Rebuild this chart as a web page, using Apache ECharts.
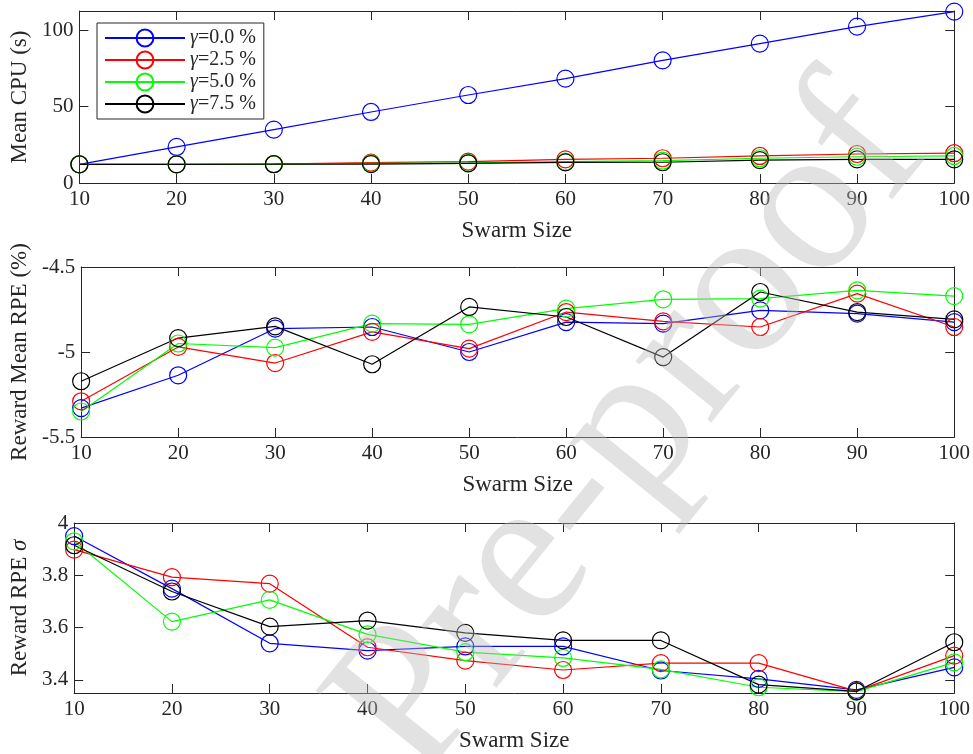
<!DOCTYPE html>
<html>
<head>
<meta charset="utf-8">
<title>Swarm size study</title>
<script src="https://cdn.jsdelivr.net/npm/echarts@6/dist/echarts.min.js"></script>
<style>
  html, body { margin: 0; padding: 0; background: #fff; }
  #chart { width: 973px; height: 754px; }
</style>
</head>
<body>
<div id="chart"></div>
<script>
// Swarm sizes on the shared x axis
const swarmSizes = [10, 20, 30, 40, 50, 60, 70, 80, 90, 100];

// Series labels (pruning ratio gamma)
const seriesNames = ['γ=0.0 %', 'γ=2.5 %', 'γ=5.0 %', 'γ=7.5 %'];
const seriesColors = ['#0000ff', '#ff0000', '#00ff00', '#000000'];

// Panel 1: mean CPU time (s)
const cpuG00 = [12.2, 23.6, 34.9, 46.5, 57.6, 68.3, 80.3, 91.2, 102.4, 112.2];
const cpuG25 = [12.2, 12.2, 12.4, 13.3, 14.0, 15.5, 16.2, 17.7, 19.0, 19.5];
const cpuG50 = [12.2, 12.2, 12.3, 12.8, 13.2, 14.0, 14.6, 16.2, 17.2, 17.7];
const cpuG75 = [12.2, 12.2, 12.3, 12.4, 12.9, 13.5, 13.6, 15.0, 15.5, 15.5];

// Panel 2: reward mean RPE (%)
const rpeG00 = [-5.33, -5.137, -4.862, -4.853, -5.0, -4.824, -4.833, -4.755, -4.774, -4.824];
const rpeG25 = [-5.29, -4.97, -5.065, -4.882, -4.98, -4.765, -4.82, -4.853, -4.657, -4.853];
const rpeG50 = [-5.35, -4.95, -4.974, -4.833, -4.837, -4.745, -4.69, -4.686, -4.637, -4.671];
const rpeG75 = [-5.172, -4.918, -4.849, -5.072, -4.735, -4.794, -5.03, -4.647, -4.765, -4.808];

// Panel 3: reward RPE standard deviation
const sdG00 = [3.950, 3.749, 3.540, 3.512, 3.528, 3.528, 3.436, 3.404, 3.362, 3.448];
const sdG25 = [3.898, 3.793, 3.768, 3.525, 3.474, 3.438, 3.464, 3.464, 3.357, 3.493];
const sdG50 = [3.930, 3.623, 3.706, 3.574, 3.506, 3.484, 3.440, 3.372, 3.355, 3.467];
const sdG75 = [3.915, 3.738, 3.604, 3.627, 3.580, 3.551, 3.551, 3.382, 3.356, 3.544];

// Tick positions per panel
const xTicks = [10, 20, 30, 40, 50, 60, 70, 80, 90, 100];
const cpuTicks = [0, 50, 100];
const rpeTicks = [-5.5, -5, -4.5];
const sdTicks = [3.4, 3.6, 3.8, 4];

const FONT = "'Liberation Serif', 'Times New Roman', serif";
const INK = '#262626';

const panels = [
  { top: 11, height: 172, min: 0, max: 112.6, ticks: cpuTicks, nameGap: 30,
    yName: 'Mean CPU (s)', values: [cpuG00, cpuG25, cpuG50, cpuG75] },
  { top: 267, height: 170, min: -5.5, max: -4.5, ticks: rpeTicks, nameGap: 35,
    yName: 'Reward Mean RPE (%)', values: [rpeG00, rpeG25, rpeG50, rpeG75] },
  { top: 523, height: 170, min: 3.35, max: 4, ticks: sdTicks, nameGap: 28,
    yName: '{n|Reward RPE }{i|σ}', values: [sdG00, sdG25, sdG50, sdG75] }
];

const grids = [], xAxes = [], yAxes = [], series = [];

panels.forEach((p, gi) => {
  grids.push({ left: 73, right: 17, top: p.top, height: p.height, containLabel: false });

  const lineStyle = { color: INK, width: 1 };
  const tickIn = { show: true, inside: true, length: 9, lineStyle: { color: INK, width: 1 } };

  // bottom x axis with labels
  xAxes.push({
    gridIndex: gi, type: 'value', position: 'bottom', min: 10, max: 100, interval: 10,
    axisLine: { show: true, onZero: false, lineStyle },
    axisTick: Object.assign({ customValues: xTicks }, tickIn),
    axisLabel: { customValues: xTicks, margin: 6, color: INK, fontFamily: FONT, fontSize: 21 },
    splitLine: { show: false },
    name: 'Swarm Size', nameLocation: 'middle', nameGap: 36,
    nameTextStyle: { color: INK, fontFamily: FONT, fontSize: 23 }
  });
  // top mirror axis (box)
  xAxes.push({
    gridIndex: gi, type: 'value', position: 'top', min: 10, max: 100, interval: 10,
    axisLine: { show: true, onZero: false, lineStyle },
    axisTick: Object.assign({ customValues: xTicks }, tickIn),
    axisLabel: { show: false }, splitLine: { show: false }
  });
  // left y axis with labels
  yAxes.push({
    gridIndex: gi, type: 'value', position: 'left', min: p.min, max: p.max,
    axisLine: { show: true, onZero: false, lineStyle },
    axisTick: Object.assign({ customValues: p.ticks }, tickIn),
    axisLabel: {
      customValues: p.ticks, margin: 6, color: INK, fontFamily: FONT, fontSize: 21,
      formatter: v => String(Math.round(v * 10) / 10)
    },
    splitLine: { show: false },
    name: p.yName, nameLocation: 'middle', nameGap: p.nameGap, nameRotate: 90,
    nameTextStyle: {
      color: INK, fontFamily: FONT, fontSize: 23,
      rich: {
        n: { color: INK, fontFamily: FONT, fontSize: 23 },
        i: { color: INK, fontFamily: FONT, fontSize: 23, fontStyle: 'italic' }
      }
    }
  });
  // right mirror axis (box)
  yAxes.push({
    gridIndex: gi, type: 'value', position: 'right', min: p.min, max: p.max,
    axisLine: { show: true, onZero: false, lineStyle },
    axisTick: Object.assign({ customValues: p.ticks }, tickIn),
    axisLabel: { show: false }, splitLine: { show: false }
  });

  p.values.forEach((vals, si) => {
    series.push({
      name: seriesNames[si],
      type: 'line',
      xAxisIndex: gi * 2,
      yAxisIndex: gi * 2,
      data: swarmSizes.map((x, k) => [x, vals[k]]),
      // hollow, unfilled circle markers
      symbol: 'circle',
      symbolSize: 17,
      clip: false,
      showAllSymbol: true,
      animation: false,
      lineStyle: { color: seriesColors[si], width: 1.2 },
      itemStyle: { color: 'rgba(0,0,0,0)', borderColor: seriesColors[si], borderWidth: 1.2 },
      emphasis: { disabled: true }
    });
  });
});

const chart = echarts.init(document.getElementById('chart'), null, { renderer: 'canvas' });
chart.setOption({
  backgroundColor: '#ffffff',
  animation: false,
  grid: grids,
  xAxis: xAxes,
  yAxis: yAxes,
  series: series,
  legend: {
    data: seriesNames,
    orient: 'vertical',
    left: 97, top: 23,
    padding: [5, 8, 5, 7],
    itemWidth: 80, itemHeight: 21, itemGap: 2,
    borderColor: INK, borderWidth: 1,
    backgroundColor: '#ffffff',
    selectedMode: false,
    formatter: name => '{i|γ}' + name.slice(1),
    textStyle: {
      color: INK, fontFamily: FONT, fontSize: 20, lineHeight: 20,
      rich: {
        i: { fontFamily: FONT, fontSize: 20, lineHeight: 20, fontStyle: 'italic', color: INK }
      }
    }
  },
  graphic: {
    elements: [{
      type: 'text',
      x: 632, y: 432,
      rotation: 51 * Math.PI / 180,
      z: 100,
      silent: true,
      style: {
        text: 'Pre-proof',
        fontFamily: FONT,
        fontSize: 212,
        fill: 'rgba(185,185,185,0.42)',
        align: 'center',
        verticalAlign: 'middle'
      }
    }]
  }
});
</script>
</body>
</html>
